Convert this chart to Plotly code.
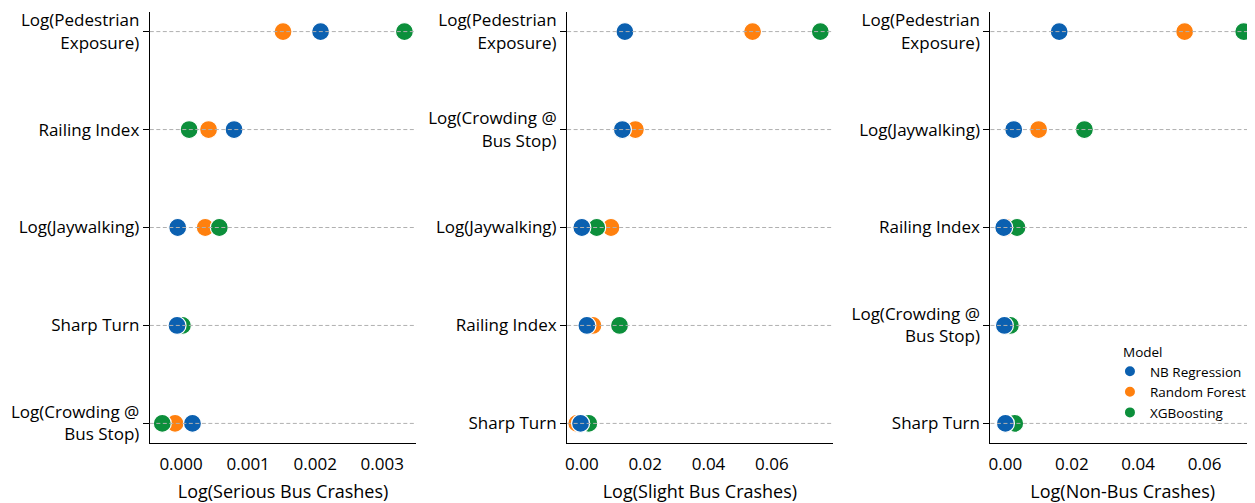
import plotly.graph_objects as go

# ---- data (top-to-bottom order per panel) ----
models = ["NB Regression", "Random Forest", "XGBoosting"]
colors = {"NB Regression": "#0b60b0", "Random Forest": "#ff800e", "XGBoosting": "#0c8f3b"}

p1_title = "Log(Serious Bus Crashes)"
p1_features = ["Log(Pedestrian<br>Exposure)", "Railing Index", "Log(Jaywalking)", "Sharp Turn", "Log(Crowding @<br>Bus Stop)"]
p1_nb = [0.00208, 0.00079, -0.00005, -0.00006, 0.00017]
p1_rf = [0.00152, 0.00041, 0.00036, 0.00001, -0.00009]
p1_xgb = [0.00333, 0.00012, 0.00057, 0.00002, -0.00028]

p2_title = "Log(Slight Bus Crashes)"
p2_features = ["Log(Pedestrian<br>Exposure)", "Log(Crowding @<br>Bus Stop)", "Log(Jaywalking)", "Railing Index", "Sharp Turn"]
p2_nb = [0.0136, 0.0128, 0.0000, 0.0016, -0.0004]
p2_rf = [0.0539, 0.0169, 0.0092, 0.0035, -0.0016]
p2_xgb = [0.0753, 0.0127, 0.0047, 0.0119, 0.0022]

p3_title = "Log(Non-Bus Crashes)"
p3_features = ["Log(Pedestrian<br>Exposure)", "Log(Jaywalking)", "Railing Index", "Log(Crowding @<br>Bus Stop)", "Sharp Turn"]
p3_nb = [0.0162, 0.0025, -0.0005, -0.0003, 0.0000]
p3_rf = [0.0540, 0.0100, 0.0002, 0.0003, 0.0005]
p3_xgb = [0.0718, 0.0238, 0.0035, 0.0015, 0.0028]

panels = [
    (p1_title, p1_features, {"NB Regression": p1_nb, "Random Forest": p1_rf, "XGBoosting": p1_xgb},
     [0.1123, 0.3264], [-0.000466, 0.003508], [0, 0.001, 0.002, 0.003], ".3f"),
    (p2_title, p2_features, {"NB Regression": p2_nb, "Random Forest": p2_rf, "XGBoosting": p2_xgb},
     [0.4475, 0.6608], [-0.00464, 0.0792], [0, 0.02, 0.04, 0.06], ".2f"),
    (p3_title, p3_features, {"NB Regression": p3_nb, "Random Forest": p3_rf, "XGBoosting": p3_xgb},
     [0.7875, 1.0], [-0.00451, 0.0752], [0, 0.02, 0.04, 0.06], ".2f"),
]

FONT = "Open Sans"
fig = go.Figure()
draw_order = ["Random Forest", "XGBoosting", "NB Regression"]
rank = {"NB Regression": 1, "Random Forest": 2, "XGBoosting": 3}

for i, (title, feats, vals, dom, xr, xt, fmt) in enumerate(panels):
    n = i + 1
    xa = "x" if n == 1 else f"x{n}"
    ya = "y" if n == 1 else f"y{n}"
    ypos = list(range(len(feats)))
    for m in draw_order:
        fig.add_trace(go.Scatter(
            x=vals[m], y=ypos, mode="markers", name=m,
            marker=dict(size=18, color=colors[m], line=dict(color="white", width=1.2)),
            xaxis=xa, yaxis=ya, showlegend=(n == 1), legendrank=rank[m], cliponaxis=False,
        ))
    for yv in ypos:
        fig.add_shape(type="line", xref=f"{xa} domain", yref=ya, x0=0, x1=1, y0=yv, y1=yv,
                      line=dict(color="#b0b0b0", width=1, dash="4px,2.5px"), layer="above")
    xkey = "xaxis" if n == 1 else f"xaxis{n}"
    ykey = "yaxis" if n == 1 else f"yaxis{n}"
    fig.update_layout(**{
        xkey: dict(domain=dom, range=xr, tickvals=xt, tickformat=fmt, anchor=ya,
                   showline=True, linecolor="black", linewidth=1.2, showgrid=False, zeroline=False,
                   ticks="outside", ticklen=5, tickcolor="rgba(0,0,0,0)",
                   tickfont=dict(family=FONT, size=17, color="black"),
                   title=dict(text=title, font=dict(family=FONT, size=18, color="black"), standoff=14)),
        ykey: dict(domain=[0, 1], range=[4.2, -0.2], tickvals=ypos, ticktext=feats, anchor=xa,
                   showline=True, linecolor="black", linewidth=1.2, showgrid=False, zeroline=False,
                   ticks="outside", ticklen=6, tickcolor="black",
                   tickfont=dict(family=FONT, size=17, color="black")),
    })

# legend title as a separate text so it lines up like the reference
fig.add_annotation(text="Model", xref="paper", yref="paper", x=(1121 - 8) / 1247, y=(435 - 344) / 431,
                   xanchor="left", yanchor="middle", showarrow=False,
                   font=dict(family=FONT, size=13.5, color="black"))

fig.update_layout(
    width=1247, height=495,
    margin=dict(l=0, r=0, t=4, b=60),
    plot_bgcolor="white", paper_bgcolor="white",
    font=dict(family=FONT, color="black"),
    legend=dict(font=dict(family=FONT, size=13.5), x=0.8835, y=(435 - 348) / 431,
                xanchor="left", yanchor="top",
                bgcolor="rgba(255,255,255,0)", itemsizing="constant", tracegroupgap=0),
)
fig.write_html("out.html")
